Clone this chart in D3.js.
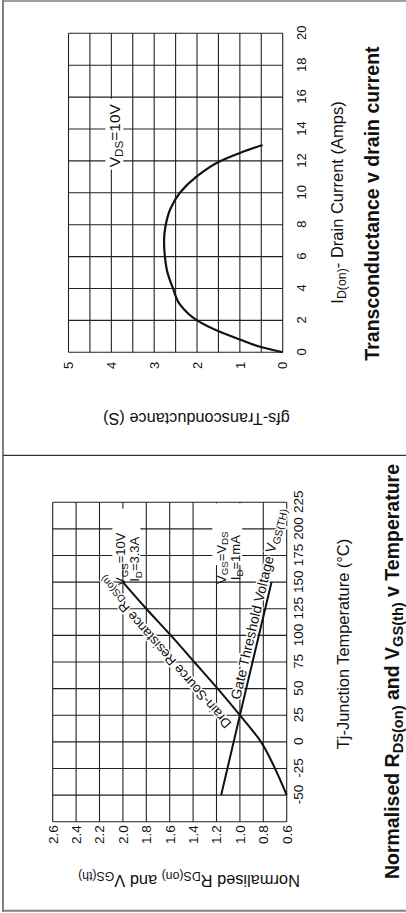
<!DOCTYPE html>
<html>
<head>
<meta charset="utf-8">
<script src="https://cdn.jsdelivr.net/npm/d3@7"></script>
<style>
  body { margin: 0; background: #fff; }
  svg { display: block; font-family: "Liberation Sans", Arial, Helvetica, sans-serif; }
</style>
</head>
<body>
<div id="chart"></div>
<script>
// ---------------- data ----------------

// transconductance v drain current, VDS = 10V
const drainCurrent = [0, 0.35, 0.8, 1.3, 2, 3, 4, 5, 6, 7, 8, 9, 10, 11, 12, 12.5, 13];
const gfs          = [0, 0.53, 1.0, 1.48, 2.0, 2.4, 2.56, 2.69, 2.75, 2.77, 2.73, 2.62, 2.40, 2.02, 1.45, 1.0, 0.47];
const currentTicks = [0, 2, 4, 6, 8, 10, 12, 14, 16, 18, 20];
const gfsTicks     = [0, 1, 2, 3, 4, 5];
const gfsGrid      = [0, 0.5, 1, 1.5, 2, 2.5, 3, 3.5, 4, 4.5, 5];

// normalised RDS(on) and VGS(th) v temperature
const rdsTemp   = [-50, -25, 0, 25, 50, 75, 100, 125, 150];
const rdsNorm   = [0.6, 0.7, 0.82, 1.0, 1.19, 1.39, 1.59, 1.8, 2.0];
const vgsTemp   = [-50, 25, 150];
const vgsNorm   = [1.16, 1.0, 0.73];
const tempTicks = [-50, -25, 0, 25, 50, 75, 100, 125, 150, 175, 200, 225];
const tempGrid  = [-75, -50, -25, 0, 25, 50, 75, 100, 125, 150, 175, 200, 225];
const normTicks = [0.6, 0.8, 1.0, 1.2, 1.4, 1.6, 1.8, 2.0, 2.2, 2.4, 2.6];

// ---------------- page ----------------

const W = 406, H = 913;
const svg = d3.select("#chart").append("svg")
  .attr("width", W)
  .attr("height", H);

// outer frame of the scanned page
svg.append("line").attr("x1", 3).attr("y1", 0).attr("x2", 3).attr("y2", 912)
  .attr("stroke", "#808080").attr("stroke-width", 2);
svg.append("line").attr("x1", 3).attr("y1", 1).attr("x2", W).attr("y2", 1)
  .attr("stroke", "#808080").attr("stroke-width", 1.5);
svg.append("line").attr("x1", 3).attr("y1", 455.3).attr("x2", W).attr("y2", 455.3)
  .attr("stroke", "#333").attr("stroke-width", 1.3);
svg.append("line").attr("x1", 3).attr("y1", 910.8).attr("x2", W).attr("y2", 910.8)
  .attr("stroke", "#808080").attr("stroke-width", 2);

// text with subscripts, parts = [[string, isSub], ...]
function richText(parent, parts, size) {
  let t = parent.append("text").attr("font-size", size);
  let down = false, shift = size * 0.2;
  parts.forEach(function(p) {
    let ts = t.append("tspan").text(p[0]);
    if (p[1]) ts.attr("font-size", size * 0.75);
    if (p[1] && !down) { ts.attr("dy", shift); down = true; }
    else if (!p[1] && down) { ts.attr("dy", -shift); down = false; }
  });
  return t;
}

function styleAxis(g, size) {
  g.attr("font-size", size).attr("font-family", null);
  g.select(".domain").remove();
  g.selectAll("text").attr("fill", "#111");
}

// both charts are printed turned a quarter turn: each one is drawn
// in its own frame and the group is rotated by -90 degrees

///////////////////
// top: transconductance
///////////////////

const g1 = svg.append("g").attr("transform", "translate(0,454) rotate(-90)");

const x1 = d3.scaleLinear().domain([0, 20]).range([101.7, 420.7]);
const y1 = d3.scaleLinear().domain([0, 5]).range([282.7, 68.5]);

g1.selectAll(".xgrid").data(currentTicks).join("line")
  .attr("x1", d => x1(d)).attr("x2", d => x1(d))
  .attr("y1", y1(0)).attr("y2", y1(5))
  .attr("stroke", "#222").attr("stroke-width", 1.1);
g1.selectAll(".ygrid").data(gfsGrid).join("line")
  .attr("x1", x1(0)).attr("x2", x1(20))
  .attr("y1", d => y1(d)).attr("y2", d => y1(d))
  .attr("stroke", "#222").attr("stroke-width", 1.1);

g1.append("g").attr("transform", "translate(0," + y1(0) + ")")
  .call(d3.axisBottom(x1).tickValues(currentTicks).tickFormat(d => String(d)).tickSize(0).tickPadding(14))
  .call(g => styleAxis(g, 13));
g1.append("g").attr("transform", "translate(" + x1(0) + ",0)")
  .call(d3.axisLeft(y1).tickValues(gfsTicks).tickFormat(d => String(d)).tickSize(0).tickPadding(9.5))
  .call(g => styleAxis(g, 13));

// VDS label sits on a white patch over the grid
g1.append("rect")
  .attr("x", x1(11.45)).attr("width", x1(15.9) - x1(11.45))
  .attr("y", y1(4.14)).attr("height", y1(3.72) - y1(4.14))
  .attr("fill", "#fff");
richText(g1, [["V", false], ["DS", true], ["=10V", false]], 15.5)
  .attr("x", x1(11.6)).attr("y", y1(3.8))
  .attr("fill", "#111");

let gfsPts = drainCurrent.map((c, i) => [c, gfs[i]]);
g1.append("path")
  .datum(gfsPts)
  .attr("d", d3.line().x(d => x1(d[0])).y(d => y1(d[1])).curve(d3.curveMonotoneX))
  .attr("fill", "none").attr("stroke", "#111").attr("stroke-width", 2.2);

richText(g1, [["I", false], ["D(on)", true], ["- Drain Current (Amps)", false]], 16.5)
  .attr("x", 251.5).attr("y", 343).attr("text-anchor", "middle").attr("fill", "#111");

g1.append("text")
  .attr("transform", "translate(41,196.5) rotate(-90)")
  .attr("text-anchor", "middle").attr("font-size", 16.3).attr("fill", "#111")
  .text("gfs-Transconductance (S)");

g1.append("text")
  .attr("x", 250.5).attr("y", 379)
  .attr("text-anchor", "middle").attr("font-size", 19.5).attr("font-weight", "bold")
  .attr("fill", "#111")
  .text("Transconductance v drain current");

///////////////////
// bottom: normalised RDS(on) and VGS(th)
///////////////////

const g2 = svg.append("g").attr("transform", "translate(0,910) rotate(-90)");

const x2 = d3.scaleLinear().domain([-75, 225]).range([88.3, 407.7]);
const y2 = d3.scaleLinear().domain([0.6, 2.6]).range([286.7, 52.7]);

g2.selectAll(".xgrid").data(tempGrid).join("line")
  .attr("x1", d => x2(d)).attr("x2", d => x2(d))
  .attr("y1", y2(0.6)).attr("y2", y2(2.6))
  .attr("stroke", "#222").attr("stroke-width", 1.1);
g2.selectAll(".ygrid").data(normTicks).join("line")
  .attr("x1", x2(-75)).attr("x2", x2(225))
  .attr("y1", d => y2(d)).attr("y2", d => y2(d))
  .attr("stroke", "#222").attr("stroke-width", 1.1);

g2.append("g").attr("transform", "translate(0," + y2(0.6) + ")")
  .call(d3.axisBottom(x2).tickValues(tempTicks).tickFormat(d => String(d)).tickSize(0).tickPadding(6.7))
  .call(g => styleAxis(g, 13.5));
g2.append("g").attr("transform", "translate(" + x2(-75) + ",0)")
  .call(d3.axisLeft(y2).tickValues(normTicks).tickFormat(d3.format(".1f")).tickSize(0).tickPadding(3.5))
  .call(g => styleAxis(g, 13.5));

// test conditions, on white patches
g2.append("rect")
  .attr("x", x2(167)).attr("width", x2(219) - x2(167))
  .attr("y", y2(2.09)).attr("height", y2(1.85) - y2(2.09))
  .attr("fill", "#fff");
richText(g2, [["V", false], ["GS", true], ["=10V", false]], 13)
  .attr("x", x2(171.5)).attr("y", y2(1.98)).attr("text-anchor", "middle").attr("fill", "#111");
richText(g2, [["I", false], ["D", true], ["=3.3A", false]], 13)
  .attr("x", x2(171.5)).attr("y", y2(1.86)).attr("text-anchor", "middle").attr("fill", "#111");

g2.append("rect")
  .attr("x", x2(166)).attr("width", x2(224) - x2(166))
  .attr("y", y2(1.235)).attr("height", y2(0.98) - y2(1.235))
  .attr("fill", "#fff");
richText(g2, [["V", false], ["GS", true], ["=V", false], ["DS", true]], 13)
  .attr("x", x2(173)).attr("y", y2(1.12)).attr("text-anchor", "middle").attr("fill", "#111");
richText(g2, [["I", false], ["D", true], ["=1mA", false]], 13)
  .attr("x", x2(173)).attr("y", y2(0.995)).attr("text-anchor", "middle").attr("fill", "#111");

// labels written along the two lines
const rdsAt = d3.scaleLinear().domain(rdsTemp).range(rdsNorm);
const vgsAt = d3.scaleLinear().domain(vgsTemp).range(vgsNorm);

let rdsAngle = Math.atan2(y2(2.0) - y2(1.0), x2(150) - x2(25)) * 180 / Math.PI;
let vgsAngle = Math.atan2(y2(vgsNorm[2]) - y2(vgsNorm[0]), x2(vgsTemp[2]) - x2(vgsTemp[0])) * 180 / Math.PI;

richText(g2, [["Drain-Source Resistance R", false], ["DS(on)", true]], 13.5)
  .attr("transform", "translate(" + x2(94) + "," + y2(rdsAt(94)) + ") rotate(" + rdsAngle + ")")
  .attr("y", -12).attr("text-anchor", "middle").attr("fill", "#111")
  .attr("stroke", "#fff").attr("stroke-width", 3).attr("paint-order", "stroke")
  .attr("stroke-linejoin", "round");

richText(g2, [["Gate Threshold Voltage V", false], ["GS(TH)", true]], 14)
  .attr("transform", "translate(" + x2(128) + "," + y2(vgsAt(128)) + ") rotate(" + vgsAngle + ")")
  .attr("y", -3.5).attr("text-anchor", "middle").attr("fill", "#111")
  .attr("stroke", "#fff").attr("stroke-width", 3).attr("paint-order", "stroke")
  .attr("stroke-linejoin", "round");

let line2 = d3.line().x(d => x2(d[0])).y(d => y2(d[1])).curve(d3.curveMonotoneX);

g2.append("path")
  .datum(rdsTemp.map((t, i) => [t, rdsNorm[i]]))
  .attr("d", line2)
  .attr("fill", "none").attr("stroke", "#111").attr("stroke-width", 2);
g2.append("path")
  .datum(vgsTemp.map((t, i) => [t, vgsNorm[i]]))
  .attr("d", line2)
  .attr("fill", "none").attr("stroke", "#111").attr("stroke-width", 2);

richText(g2, [["Tj-Junction Temperature (°C)", false]], 16.4)
  .attr("x", 266).attr("y", 349).attr("text-anchor", "middle").attr("fill", "#111");

richText(g2, [["Normalised R", false], ["DS(on)", true], [" and V", false], ["GS(th)", true]], 16.4)
  .attr("transform", "translate(35,189) rotate(-90)")
  .attr("text-anchor", "middle").attr("fill", "#111");

richText(g2, [["Normalised R", false], ["DS(on)", true], [" and V", false], ["GS(th)", true], [" v Temperature", false]], 19.5)
  .attr("x", 238.5).attr("y", 399)
  .attr("text-anchor", "middle").attr("font-weight", "bold").attr("fill", "#111");
</script>
</body>
</html>
